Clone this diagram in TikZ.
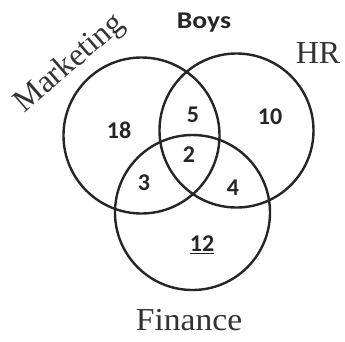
\documentclass[tikz,border=0pt]{standalone}
\usepackage{fontspec}
\setmainfont{Liberation Serif}
\newfontfamily\numfont{Carlito}
\begin{document}
\begin{tikzpicture}[x=1pt,y=-1pt,
  setcircle/.style={draw=black!85,line width=2.4pt},
  setlabel/.style={font=\fontsize{32}{32}\selectfont,text=black!80,inner sep=0pt},
  numlabel/.style={font=\numfont\bfseries\fontsize{24}{24}\selectfont,text=black!85,inner sep=0pt}]
\useasboundingbox (0,0) rectangle (345,341);
\fill[white] (0,0) rectangle (345,341);
\coordinate (cm) at (141.5,135.5);
\coordinate (ch) at (236.5,130.5);
\coordinate (cf) at (192.5,212.5);
\draw[setcircle] (cm) circle[radius=78];
\draw[setcircle] (ch) circle[radius=77];
\draw[setcircle] (cf) circle[radius=77.5];
\node[setlabel,rotate=41] (mk) at (70,64) {Marketing};
\node[setlabel] (hr) at (318,53) {HR};
\node[setlabel,xscale=1.05] (fin) at (189,320) {Finance};
\node[numlabel,xscale=1.15] (boys) at (204,23) {Boys};
\node[numlabel] (n18) at (119,130) {18};
\node[numlabel] (n5) at (193,115) {5};
\node[numlabel] (n10) at (270,117) {10};
\node[numlabel] (n2) at (189,155) {2};
\node[numlabel] (n3) at (144,183) {3};
\node[numlabel] (n4) at (233,188) {4};
\node[numlabel] (n12) at (202,245) {\underline{12}};
\end{tikzpicture}
\end{document}
